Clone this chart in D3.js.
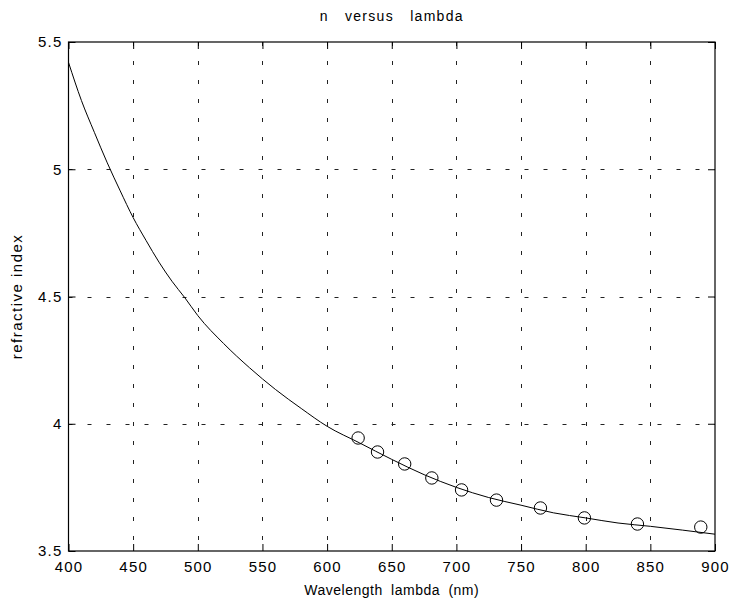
<!DOCTYPE html>
<html>
<head>
<meta charset="utf-8">
<script src="https://cdn.jsdelivr.net/npm/d3@7"></script>
<style>
  body { margin: 0; background: #fff; }
  text { font-family: "Liberation Sans", Arial, sans-serif; fill: #000; }
</style>
</head>
<body>
<script>
// fitted curve
const curveLambda = [400, 410, 420, 430, 440, 450, 460, 470, 480, 490, 500, 520, 540, 560, 580, 600, 625, 650, 675, 700, 725, 750, 775, 800, 825, 850, 875, 900];
const curveN = [5.42, 5.27, 5.145, 5.025, 4.915, 4.81, 4.72, 4.635, 4.56, 4.495, 4.425, 4.315, 4.22, 4.135, 4.06, 3.99, 3.925, 3.86, 3.80, 3.75, 3.71, 3.68, 3.65, 3.63, 3.61, 3.597, 3.582, 3.566];

// measured points (circles)
const measLambda = [624, 639, 660, 681, 704, 731, 765, 799, 840, 889];
const measN = [3.944, 3.889, 3.842, 3.787, 3.740, 3.700, 3.669, 3.630, 3.606, 3.594];

const xTicks = [400, 450, 500, 550, 600, 650, 700, 750, 800, 850, 900];
const yTicks = [3.5, 4, 4.5, 5, 5.5];

const width = 732;
const height = 604;
const margin = { top: 42, right: 17, bottom: 53, left: 68.5 };

const x = d3.scaleLinear().domain([400, 900]).range([margin.left, width - margin.right]);
const y = d3.scaleLinear().domain([3.5, 5.5]).range([height - margin.bottom, margin.top]);

const svg = d3.select("body").append("svg")
  .attr("width", width)
  .attr("height", height);

const x0 = x.range()[0], x1 = x.range()[1];
const y0 = y.range()[0], y1 = y.range()[1];

// grid
const grid = svg.append("g")
  .attr("stroke", "#222")
  .attr("stroke-width", 1)
  .attr("stroke-dasharray", "4,15");
grid.selectAll(".vg")
  .data(xTicks.slice(1, -1))
  .join("line")
  .attr("x1", d => Math.round(x(d)) + 0.5)
  .attr("x2", d => Math.round(x(d)) + 0.5)
  .attr("y1", y1)
  .attr("y2", y0);
grid.selectAll(".hg")
  .data(yTicks.slice(1, -1))
  .join("line")
  .attr("y1", d => Math.round(y(d)) + 0.5)
  .attr("y2", d => Math.round(y(d)) + 0.5)
  .attr("x1", x0)
  .attr("x2", x1);

// axes, matlab style: ticks inward on all four sides
const tickLen = 7;
svg.append("g")
  .attr("transform", `translate(0,${y0})`)
  .call(d3.axisBottom(x).tickValues(xTicks).tickSize(-tickLen).tickPadding(10).tickFormat(d3.format("d")))
  .call(g => g.select(".domain").remove())
  .call(g => g.selectAll("text").attr("font-size", 15).attr("letter-spacing", "1.2px"));
svg.append("g")
  .attr("transform", `translate(0,${y1})`)
  .call(d3.axisTop(x).tickValues(xTicks).tickSize(-tickLen).tickFormat(""))
  .call(g => g.select(".domain").remove());
svg.append("g")
  .attr("transform", `translate(${x0},0)`)
  .call(d3.axisLeft(y).tickValues(yTicks).tickSize(-tickLen).tickPadding(6).tickFormat(d3.format("")))
  .call(g => g.select(".domain").remove())
  .call(g => g.selectAll("text").attr("font-size", 15).attr("letter-spacing", "1.2px"));
svg.append("g")
  .attr("transform", `translate(${x1},0)`)
  .call(d3.axisRight(y).tickValues(yTicks).tickSize(-tickLen).tickFormat(""))
  .call(g => g.select(".domain").remove());

svg.append("rect")
  .attr("x", x0)
  .attr("y", y1)
  .attr("width", x1 - x0)
  .attr("height", y0 - y1)
  .attr("fill", "none")
  .attr("stroke", "#000")
  .attr("stroke-width", 1.2);

// curve
const curveData = curveLambda.map((l, i) => [l, curveN[i]]);
svg.append("path")
  .datum(curveData)
  .attr("fill", "none")
  .attr("stroke", "#000")
  .attr("stroke-width", 1)
  .attr("d", d3.line().x(d => x(d[0])).y(d => y(d[1])).curve(d3.curveMonotoneX));

// circles
svg.append("g")
  .selectAll("circle")
  .data(measLambda.map((l, i) => [l, measN[i]]))
  .join("circle")
  .attr("cx", d => x(d[0]))
  .attr("cy", d => y(d[1]))
  .attr("r", 6.2)
  .attr("fill", "none")
  .attr("stroke", "#000")
  .attr("stroke-width", 1);

// labels
svg.append("text")
  .attr("x", (x0 + x1) / 2)
  .attr("y", 21)
  .attr("text-anchor", "middle")
  .attr("font-size", 14)
  .attr("letter-spacing", "1.3px")
  .attr("word-spacing", "11px")
  .text("n versus lambda");

svg.append("text")
  .attr("x", (x0 + x1) / 2)
  .attr("y", 595)
  .attr("text-anchor", "middle")
  .attr("font-size", 14)
  .attr("letter-spacing", "0.5px")
  .attr("word-spacing", "4px")
  .text("Wavelength lambda (nm)");

svg.append("text")
  .attr("transform", `translate(22,${(y0 + y1) / 2}) rotate(-90)`)
  .attr("text-anchor", "middle")
  .attr("font-size", 15)
  .attr("letter-spacing", "1.5px")
  .text("refractive index");
</script>
</body>
</html>
